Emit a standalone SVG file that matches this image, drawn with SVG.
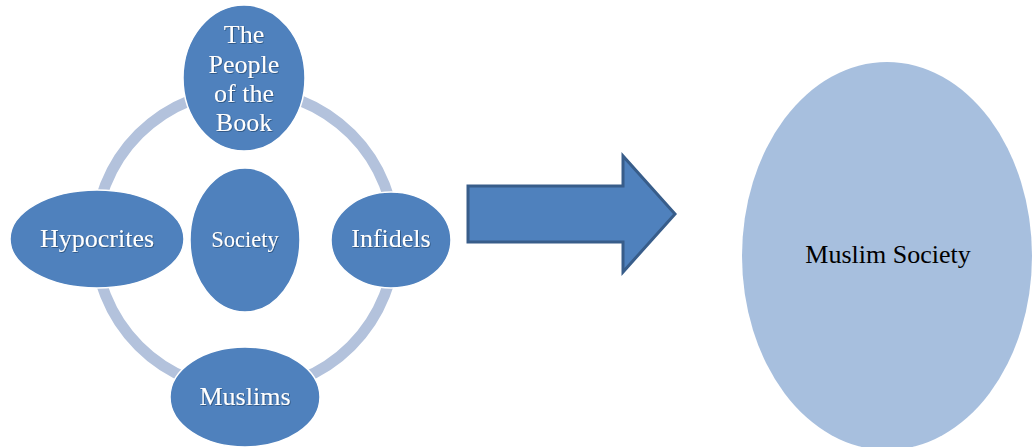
<svg xmlns="http://www.w3.org/2000/svg" width="1032" height="447" viewBox="0 0 1032 447">
<defs>
<style>
.node{fill:#4F81BD;stroke:#ffffff;stroke-width:1.5}
.lbl{font-family:"Liberation Serif","DejaVu Serif",serif;font-size:26px;fill:#ffffff;text-anchor:middle}
.ring{fill:none;stroke:#B3C2DC;stroke-width:11}
</style>
<filter id="sh" x="-10%" y="-10%" width="120%" height="130%">
<feDropShadow dx="0.8" dy="0.8" stdDeviation="0.4" flood-color="#1f3a5f" flood-opacity="0.7"/>
</filter>
</defs>
<rect width="1032" height="447" fill="#ffffff"/>
<g id="connectors">
<circle class="ring" cx="245" cy="240" r="150"/>
<polygon points="468,186 623,186 623,156 675,214 623,272 623,242 468,242" fill="#4F81BD" stroke="#385D8A" stroke-width="3" stroke-linejoin="miter"/>
</g>
<g id="people-of-the-book">
<ellipse class="node" cx="244" cy="78" rx="61" ry="73"/>
<text class="lbl" filter="url(#sh)" x="244" y="43">The</text>
<text class="lbl" filter="url(#sh)" x="244" y="73">People</text>
<text class="lbl" filter="url(#sh)" x="244" y="102">of the</text>
<text class="lbl" filter="url(#sh)" x="244" y="131">Book</text>
</g>
<g id="hypocrites">
<ellipse class="node" cx="97" cy="239" rx="87" ry="49"/>
<text class="lbl" filter="url(#sh)" x="97" y="247">Hypocrites</text>
</g>
<g id="society">
<ellipse class="node" cx="245" cy="240" rx="55" ry="72"/>
<text class="lbl" filter="url(#sh)" x="245" y="247" style="font-size:22.5px">Society</text>
</g>
<g id="infidels">
<ellipse class="node" cx="391" cy="240" rx="60" ry="48"/>
<text class="lbl" filter="url(#sh)" x="391" y="247">Infidels</text>
</g>
<g id="muslims">
<ellipse class="node" cx="245" cy="397" rx="75" ry="50"/>
<text class="lbl" filter="url(#sh)" x="245" y="405">Muslims</text>
</g>
<g id="muslim-society">
<ellipse cx="887" cy="256" rx="145" ry="194" fill="#A7BFDE"/>
<text x="888" y="263" font-family="Liberation Serif, DejaVu Serif, serif" font-size="26" fill="#000000" text-anchor="middle">Muslim Society</text>
</g>
</svg>
